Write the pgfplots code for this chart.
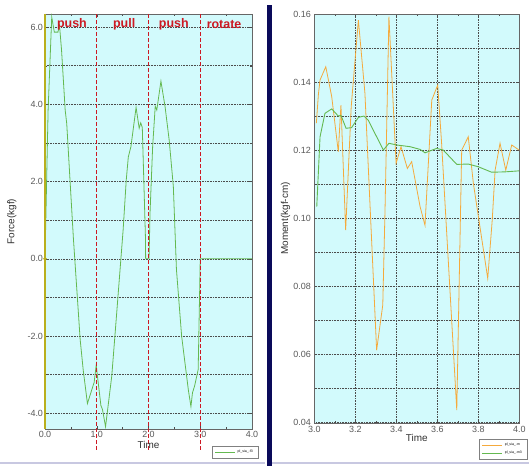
\documentclass[border=0pt]{standalone}
\usepackage{fontspec}
\setmainfont{Liberation Sans}
\usepackage{pgfplots}
\pgfplotsset{compat=1.18}

\definecolor{plotbg}{RGB}{210,250,252}
\definecolor{curvegreen}{RGB}{100,185,80}
\definecolor{curveorange}{RGB}{245,170,60}
\definecolor{markred}{RGB}{205,25,35}
\definecolor{olivebar}{RGB}{185,175,30}
\definecolor{navybar}{RGB}{10,10,90}
\definecolor{ticktext}{RGB}{90,90,90}
\definecolor{panelline}{RGB}{200,200,225}

\pgfplotsset{
  panel/.style={
    scale only axis,
    axis background/.style={fill=plotbg},
    tick align=inside,
    major tick length=3bp,
    minor tick length=2bp,
    tick style={black!70, thin},
    axis line style={black!60},
    grid style={black!70, line width=0.45pt, dash pattern=on 0.7bp off 0.9bp},
    minor grid style={black!70, line width=0.45pt, dash pattern=on 0.7bp off 0.9bp},
    tick label style={font=\fontsize{9}{10}\selectfont, text=ticktext},
    label style={font=\fontsize{10}{11}\selectfont, text=black!80},
    /pgf/number format/assume math mode=true,
    legend cell align=left,
    legend image code/.code={\draw[#1] (0bp,0bp) -- (20bp,0bp);},
    legend style={draw=black!50, fill=white, font=\fontsize{3.5}{4}\selectfont,
      inner xsep=3bp, inner ysep=2bp, row sep=0pt,
      /tikz/every even column/.append style={column sep=6bp}},
  }
}

\begin{document}
\begin{tikzpicture}
\path[use as bounding box] (0,0) rectangle (529bp,466bp);
\fill[white] (0,0) rectangle (529bp,466bp);
\fill[navybar] (266.5bp,0) rectangle (271.5bp,461bp);
\draw[panelline, line width=1.5bp] (0,3bp) -- (265bp,3bp);
\draw[panelline, line width=1.5bp] (272bp,3bp) -- (529bp,3bp);

% left panel: force
\begin{axis}[panel,
  at={(45bp,37bp)}, anchor=south west,
  width=207bp, height=415bp,
  clip=false,
  xmin=0, xmax=4, ymin=-4.41, ymax=6.34,
  xtick={0,1,2,3,4}, minor x tick num=1,
  ytick={-4,-2,0,2,4,6}, minor y tick num=1,
  ymajorgrids, yminorgrids,
  xticklabel style={/pgf/number format/.cd, fixed, fixed zerofill, precision=1, /tikz/yshift=1bp},
  yticklabel style={/pgf/number format/.cd, fixed, fixed zerofill, precision=1, /tikz/xshift=1.5bp},
  xlabel={Time}, ylabel={Force(kgf)},
  xlabel style={at={(axis description cs:0.5,-0.039)}, anchor=center},
  ylabel style={at={(axis description cs:-0.16,0.5)}, anchor=center},
  legend style={at={(1.029,-0.041)}, anchor=north east},
]
\addplot[curvegreen, line width=0.8pt] coordinates {
  (0,0) (0.06,3.85) (0.13,6.26) (0.18,5.87) (0.25,5.87) (0.28,6.05)
  (0.32,5.4) (0.39,3.85) (0.42,3.5) (0.55,0.5) (0.68,-2.1) (0.74,-2.9)
  (0.82,-3.75) (0.95,-3.2) (0.99,-2.75) (1.01,-3.0) (1.08,-3.8)
  (1.11,-3.9) (1.17,-4.35) (1.29,-3.04) (1.38,-1.5) (1.51,0.75)
  (1.57,2.04) (1.61,2.64) (1.66,2.9) (1.76,3.92) (1.82,3.38) (1.85,3.52)
  (1.88,3.4) (1.94,0.6) (1.945,0) (2.01,0) (2.03,1.2) (2.08,2.9)
  (2.13,3.95) (2.16,3.85) (2.24,4.6) (2.32,3.94) (2.40,3.07) (2.48,1.87)
  (2.54,-0.28) (2.64,-2.0) (2.77,-3.4) (2.82,-3.83) (2.85,-3.47)
  (2.89,-3.3) (2.96,-2.87) (3.0,0) (4.0,0)
};
\addlegendentry{pl\_sia\_-f3}
\addplot[olivebar, line width=2.2bp, forget plot] coordinates {(0,-4.41) (0,6.34)};
\addplot[olivebar, only marks, mark=*, mark size=1.5bp, forget plot] coordinates {(0,0)};
\addplot[markred, line width=0.7pt, dash pattern=on 4bp off 2bp, forget plot] coordinates {(1,-4.95) (1,6.34)};
\addplot[markred, line width=0.7pt, dash pattern=on 4bp off 2bp, forget plot] coordinates {(2,-4.95) (2,6.34)};
\addplot[markred, line width=0.7pt, dash pattern=on 4bp off 2bp, forget plot] coordinates {(3,-4.95) (3,6.34)};
\node[text=markred, font=\fontsize{12.5}{13}\selectfont\bfseries] at (axis cs:0.52,6.08) {push};
\node[text=markred, font=\fontsize{12.5}{13}\selectfont\bfseries] at (axis cs:1.53,6.08) {pull};
\node[text=markred, font=\fontsize{12.5}{13}\selectfont\bfseries] at (axis cs:2.49,6.08) {push};
\node[text=markred, font=\fontsize{12.5}{13}\selectfont\bfseries] at (axis cs:3.46,6.08) {rotate};
\end{axis}

% right panel: moment
\begin{axis}[panel,
  at={(314.3bp,43.3bp)}, anchor=south west,
  width=205bp, height=408.4bp,
  xmin=3, xmax=4, ymin=0.04, ymax=0.16,
  xtick={3,3.2,3.4,3.6,3.8,4}, minor x tick num=1,
  ytick={0.04,0.06,0.08,0.10,0.12,0.14,0.16}, minor y tick num=1,
  xmajorgrids, ymajorgrids, yminorgrids,
  xticklabel style={/pgf/number format/.cd, fixed, fixed zerofill, precision=1},
  yticklabel style={/pgf/number format/.cd, fixed, fixed zerofill, precision=2},
  xlabel={Time}, ylabel={Moment(kgf-cm)},
  xlabel style={at={(axis description cs:0.5,-0.037)}, anchor=center},
  ylabel style={at={(axis description cs:-0.14,0.5)}, anchor=center},
  legend style={at={(1.038,-0.04)}, anchor=north east},
]
\addplot[curveorange, line width=0.8pt] coordinates {
  (3.01,0.128) (3.02,0.1365) (3.028,0.1407) (3.056,0.1446) (3.085,0.1358)
  (3.117,0.1196) (3.13,0.1333) (3.153,0.0966) (3.18,0.1328) (3.215,0.1583)
  (3.247,0.1368) (3.304,0.0613) (3.334,0.0746) (3.345,0.1025) (3.364,0.1593)
  (3.399,0.1162) (3.423,0.1211) (3.454,0.1147) (3.475,0.1167) (3.516,0.1035)
  (3.54,0.098) (3.573,0.1348) (3.602,0.1392) (3.621,0.1221) (3.695,0.0437)
  (3.719,0.1201) (3.751,0.124) (3.776,0.1103) (3.846,0.0824) (3.868,0.0996)
  (3.882,0.1142) (3.906,0.1221) (3.934,0.1142) (3.963,0.1216) (3.999,0.1201)
};
\addlegendentry{pl\_sia\_-m}
\addplot[curvegreen, line width=0.9pt] coordinates {
  (3.012,0.1035) (3.028,0.124) (3.052,0.1309) (3.085,0.1322) (3.117,0.1301)
  (3.13,0.1303) (3.155,0.1265) (3.182,0.1267) (3.215,0.1297) (3.242,0.1301)
  (3.263,0.1289) (3.30,0.1245) (3.337,0.1201) (3.364,0.1221) (3.402,0.1216)
  (3.467,0.1211) (3.516,0.1203) (3.54,0.1193) (3.597,0.1206) (3.629,0.1201)
  (3.695,0.1159) (3.751,0.116) (3.80,0.1152) (3.865,0.1136) (3.93,0.1137)
  (3.999,0.114)
};
\addlegendentry{pl\_sia\_-m3}
\end{axis}
\end{tikzpicture}
\end{document}
